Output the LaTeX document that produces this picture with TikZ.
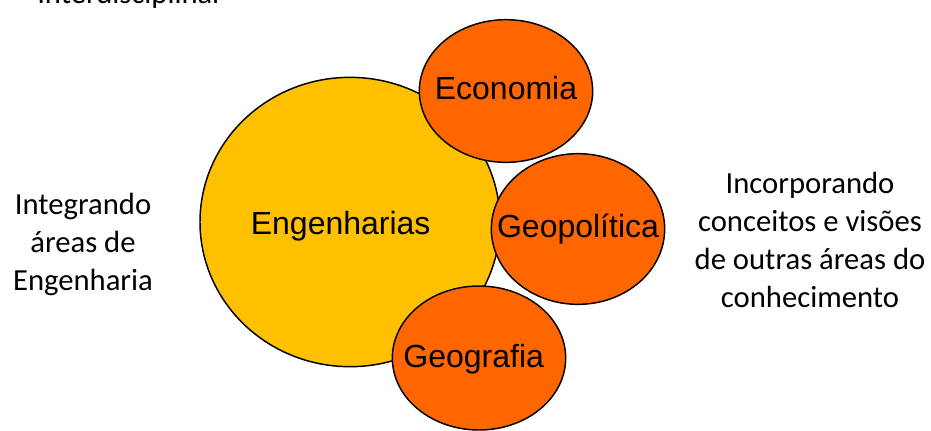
\documentclass[tikz,border=0pt]{standalone}
\usepackage{fontspec}
\setmainfont{Carlito}
\newfontfamily\arialfont{Liberation Sans}
\usepackage{xcolor}
\usetikzlibrary{shapes.geometric}
\definecolor{engyellow}{HTML}{FFC000}
\definecolor{areaorange}{HTML}{FF6600}

\begin{document}
\begin{tikzpicture}[
    x=0.75pt, y=-0.75pt,
    % --- node styles ---
    bigarea/.style={
      ellipse, draw=black, line width=1.1pt, fill=engyellow,
      inner sep=0pt, minimum width=225pt, minimum height=217pt},
    area/.style={
      ellipse, draw=black, line width=1.1pt, fill=areaorange,
      inner sep=0pt, minimum width=130pt, minimum height=108pt},
    arealabel/.style={
      inner sep=0pt, font=\arialfont\fontsize{24}{28}\selectfont},
    sidetext/.style={
      align=center, inner sep=0pt,
      font=\fontsize{23}{28.5}\selectfont},
  ]
  \useasboundingbox (0,0) rectangle (931,430);

  % ============== TITLE (cut at the top) ==============
  \node[sidetext, anchor=base west] (title) at (37,3) {Interdisciplinar};

  % ============== CIRCLES ==============
  \node[bigarea] (eng) at (350,222) {};
  \node[area, minimum height=107pt] (econ) at (506,91) {};
  \node[area, minimum height=113pt] (geopol) at (578,229) {};
  \node[area, minimum height=108pt] (geog) at (479,358) {};

  % ============== CIRCLE LABELS ==============
  \node[arealabel] (englbl) at ([xshift=-7pt,yshift=-3pt]eng.center) {Engenharias};
  \node[arealabel] (econlbl) at ([yshift=2pt]econ.center) {Economia};
  \node[arealabel] (geopollbl) at (geopol.center) {Geopolítica};
  \node[arealabel] (geoglbl) at ([xshift=-4pt,yshift=-1pt]geog.center) {Geografia};

  % ============== SIDE TEXTS ==============
  \node[sidetext] (integ) at (83,244) {Integrando\\áreas de\\Engenharia};
  \node[sidetext] (incorp) at (810,240)
    {Incorporando\\conceitos e visões\\de outras áreas do\\conhecimento};

\end{tikzpicture}
\end{document}
